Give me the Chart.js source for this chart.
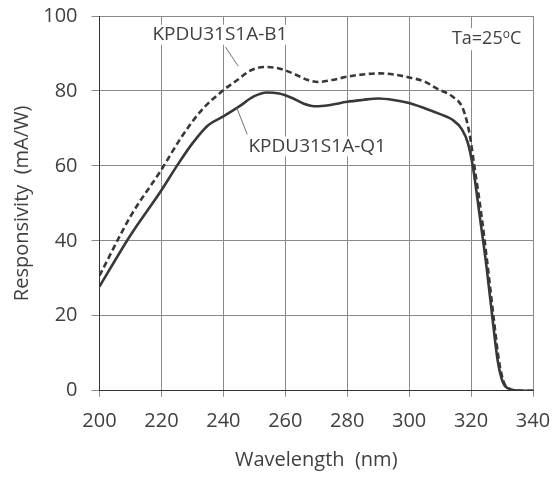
<!DOCTYPE html>
<html>
<head>
<meta charset="utf-8">
<script src="https://cdn.jsdelivr.net/npm/chart.js@4.4.0/dist/chart.umd.min.js"></script>
<style>
  html, body { margin: 0; padding: 0; background: #fff; }
  #wrap { width: 555px; height: 481px; }
</style>
</head>
<body>
<div id="wrap"><canvas id="chart"></canvas></div>
<script>
// Spectral responsivity
const wavelengthQ1 = [200, 210, 220, 225, 230, 235, 240, 245, 250, 254, 258, 262, 266, 270, 274, 280, 285, 290, 295, 300, 305, 310, 314, 317, 319, 320.6, 322.7, 325, 327, 328.6, 330.3, 332, 334, 337, 340];
const respQ1 = [27.8, 41.5, 53.5, 60.0, 66.0, 70.8, 73.2, 75.8, 78.6, 79.6, 79.3, 78.2, 76.6, 75.9, 76.2, 77.1, 77.6, 78.0, 77.6, 76.8, 75.4, 73.8, 72.3, 69.8, 66.0, 59.7, 47.2, 33.0, 18.7, 8.0, 2.2, 0.6, 0.1, 0, 0];

const wavelengthB1 = [200, 210, 220, 226.5, 233, 240, 245, 248, 253, 258, 263, 267, 270.6, 275, 280, 285, 290.5, 295, 300, 305, 309, 314, 317.4, 319.5, 321.1, 323.3, 325.4, 327.4, 329, 330.6, 332.3, 334, 337, 340];
const respB1 = [30.7, 46.5, 59.0, 67.7, 74.9, 80.2, 83.2, 85.1, 86.4, 86.0, 84.5, 83.0, 82.4, 82.9, 83.8, 84.4, 84.7, 84.4, 83.6, 82.5, 80.6, 78.5, 75.2, 68.6, 59.7, 47.2, 33.0, 18.7, 8.0, 2.2, 0.6, 0.1, 0, 0];

const seriesNames = ['KPDU31S1A-Q1', 'KPDU31S1A-B1'];
const xTitle = 'Wavelength  (nm)';
const yTitle = 'Responsivity  (mA/W)';

const FONT = '"Open Sans", "DejaVu Sans", sans-serif';
const TEXT = '#404040';
const GRID = '#8a8a8a';
const AXIS = '#333333';

// callout labels in data units
const callouts = [
    { text: seriesNames[1], x: 238.9, y: 95.0, from: [240.7, 91.7], to: [244.8, 86.6] },
    { text: seriesNames[0], x: 270.3, y: 65.2, from: [244.3, 75.6], to: [247.7, 68.4] }
];

const toPts = (xs, ys) => xs.map((x, i) => ({ x: x, y: ys[i] }));

// hide the grid line that sits on an axis so the darker border shows
const gridColor = edge => c => (c.tick && c.tick.value === edge ? 'rgba(0,0,0,0)' : GRID);

const annotatePlugin = {
    id: 'annotate',
    afterDatasetsDraw(chart) {
        const { ctx, scales: { x, y } } = chart;
        ctx.save();
        ctx.strokeStyle = '#707070';
        ctx.lineWidth = 1;
        ctx.font = '19px ' + FONT;
        ctx.textAlign = 'center';
        ctx.textBaseline = 'middle';
        callouts.forEach(c => {
            ctx.beginPath();
            ctx.moveTo(x.getPixelForValue(c.from[0]), y.getPixelForValue(c.from[1]));
            ctx.lineTo(x.getPixelForValue(c.to[0]), y.getPixelForValue(c.to[1]));
            ctx.stroke();
            const px = x.getPixelForValue(c.x), py = y.getPixelForValue(c.y);
            const w = ctx.measureText(c.text).width;
            ctx.fillStyle = '#fff';
            ctx.fillRect(px - w / 2 - 2, py - 10, w + 4, 20);
            ctx.fillStyle = TEXT;
            ctx.fillText(c.text, px, py);
        });

        // Ta=25°C, with a superscript o
        const rx = x.getPixelForValue(336.2), ry = y.getPixelForValue(93.8);
        ctx.textAlign = 'left';
        ctx.font = '18px ' + FONT;
        const wA = ctx.measureText('Ta=25').width;
        const wC = ctx.measureText('C').width;
        ctx.font = '12px ' + FONT;
        const wO = ctx.measureText('o').width;
        const start = rx - (wA + wO + wC);
        ctx.fillStyle = '#fff';
        ctx.fillRect(start - 2, ry - 11, wA + wO + wC + 4, 22);
        ctx.fillStyle = TEXT;
        ctx.font = '18px ' + FONT;
        ctx.fillText('Ta=25', start, ry);
        ctx.font = '12px ' + FONT;
        ctx.fillText('o', start + wA, ry - 5);
        ctx.font = '18px ' + FONT;
        ctx.fillText('C', start + wA + wO, ry);
        ctx.restore();
    }
};

new Chart(document.getElementById('chart'), {
    type: 'line',
    data: {
        datasets: [
            {
                label: seriesNames[0],
                data: toPts(wavelengthQ1, respQ1),
                borderColor: '#383838',
                borderWidth: 2.6,
                pointRadius: 0,
                cubicInterpolationMode: 'monotone'
            },
            {
                label: seriesNames[1],
                data: toPts(wavelengthB1, respB1),
                borderColor: '#383838',
                borderWidth: 2.6,
                borderDash: [6, 3.5],
                pointRadius: 0,
                cubicInterpolationMode: 'monotone'
            }
        ]
    },
    options: {
        responsive: true,
        maintainAspectRatio: false,
        animation: false,
        layout: { padding: { top: 16, right: 22, left: 0, bottom: 0 } },
        plugins: {
            legend: { display: false },
            tooltip: { enabled: false }
        },
        scales: {
            x: {
                type: 'linear',
                min: 200,
                max: 340,
                // fixed box; tick padding shouldn't push the plot inward
                afterFit: s => { s.height = 90.3; s.paddingLeft = 0; s.paddingRight = 0; },
                ticks: { stepSize: 20, color: TEXT, padding: 13, font: { family: FONT, size: 20 } },
                grid: { color: gridColor(200), tickColor: GRID, tickLength: 6 },
                border: { color: AXIS },
                title: {
                    display: true,
                    text: xTitle,
                    color: TEXT,
                    font: { family: FONT, size: 20 },
                    padding: { top: 0, bottom: 9 }
                }
            },
            y: {
                min: 0,
                max: 100,
                afterFit: s => { s.width = 99.5; s.paddingTop = 0; s.paddingBottom = 0; },
                ticks: { stepSize: 20, color: TEXT, padding: 14, font: { family: FONT, size: 20 } },
                grid: { color: gridColor(0), tickColor: GRID, tickLength: 8 },
                border: { color: AXIS },
                title: {
                    display: true,
                    text: yTitle,
                    color: TEXT,
                    font: { family: FONT, size: 20 },
                    padding: { top: 10, bottom: 0 }
                }
            }
        }
    },
    plugins: [annotatePlugin]
});
</script>
</body>
</html>
